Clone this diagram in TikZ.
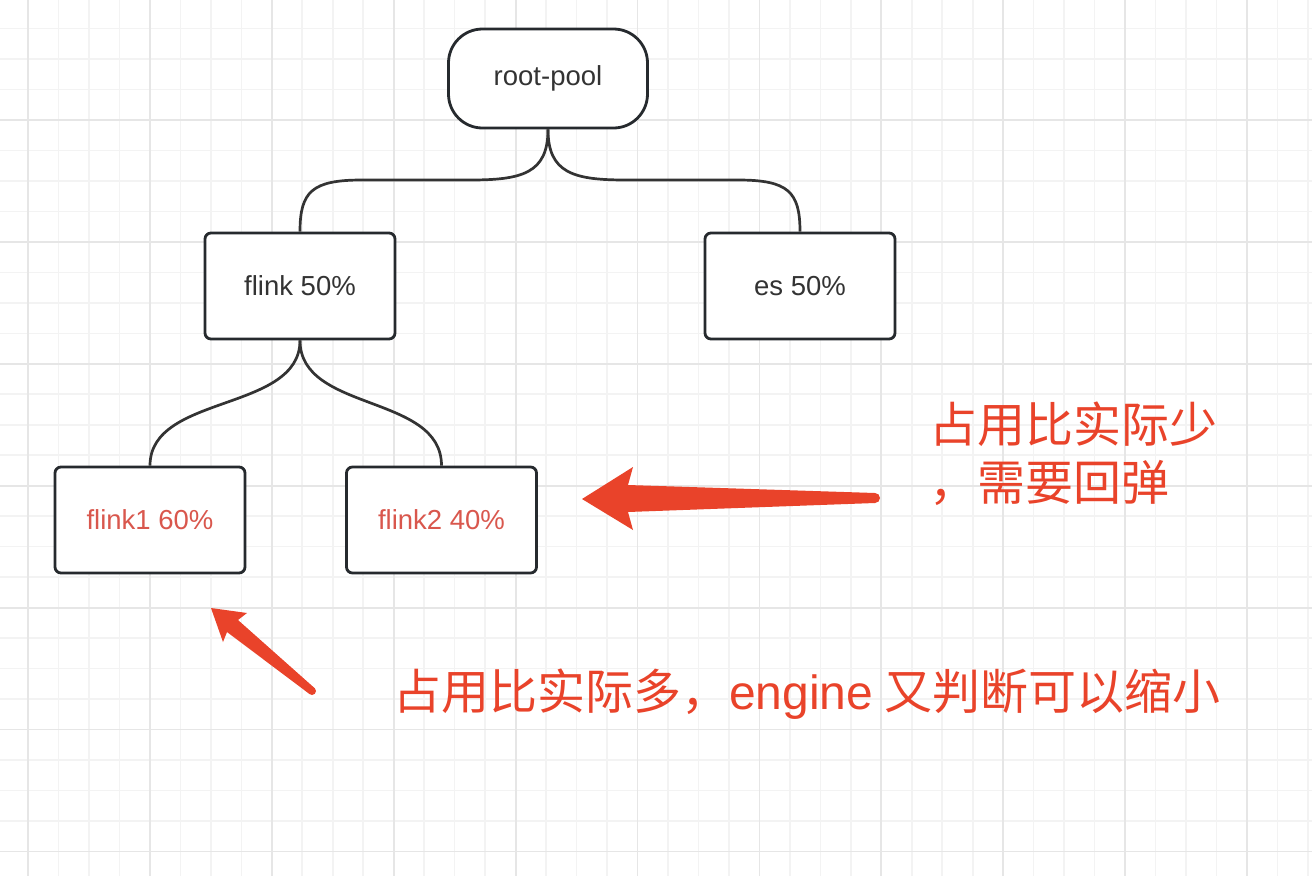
\documentclass[tikz,border=0pt]{standalone}
\usepackage{fontspec}
\setmainfont{Liberation Sans}
\newfontfamily\cjk{Noto Sans CJK SC}
\usepackage{tikz}
\definecolor{boxline}{HTML}{262A2E}
\definecolor{linegray}{HTML}{333333}
\definecolor{textgray}{HTML}{333333}
\definecolor{subred}{HTML}{D9574D}
\definecolor{notered}{HTML}{E9432A}
\definecolor{minorgrid}{HTML}{F3F3F3}
\definecolor{majorgrid}{HTML}{E6E6E6}

\begin{document}
\begin{tikzpicture}[x=1pt,y=-1pt,
  poolbox/.style={draw=boxline, line width=2.8pt, fill=white, rounded corners=6pt,
    minimum width=190pt, minimum height=106pt, inner sep=0pt, text=textgray,
    font=\fontsize{27.5}{32}\selectfont},
  rootbox/.style={poolbox, rounded corners=34pt, minimum width=199pt, minimum height=99pt},
  subbox/.style={poolbox, text=subred},
  branch/.style={draw=linegray, line width=2.7pt},
  note/.style={text=notered, inner sep=0pt, font=\cjk\fontsize{48}{58}\selectfont},
  bigarrow/.style={fill=notered}]
\useasboundingbox (0,0) rectangle (1312,876);
\fill[white] (0,0) rectangle (1312,876);
% grid
\foreach \i in {-1,...,42}
  \draw[minorgrid, line width=1.6pt] ({28+30.475*\i},0) -- ({28+30.475*\i},876);
\foreach \i in {-4,...,25}
  \draw[minorgrid, line width=1.6pt] (0,{120+30.475*\i}) -- (1312,{120+30.475*\i});
\foreach \i in {0,...,10}
  \draw[majorgrid, line width=1.8pt] ({28+121.9*\i},0) -- ({28+121.9*\i},876);
\foreach \i in {0,...,6}
  \draw[majorgrid, line width=1.8pt] (0,{120+121.9*\i}) -- (1312,{120+121.9*\i});

% pools
\node[rootbox] (root) at (548,78.5) {root-pool};
\node[poolbox] (flink) at (300,286) {flink 50\%};
\node[poolbox] (es) at (800,286) {es 50\%};
\node[subbox] (flinka) at (150,520) {flink1 60\%};
\node[subbox] (flinkb) at (441.5,520) {flink2 40\%};

\coordinate (lbend) at (470,180);
\coordinate (lturn) at (362,180);
\coordinate (rbend) at (626,180);
\coordinate (rturn) at (738,180);
\draw[branch] (root.south) .. controls +(0,44) and +(52,0) .. (lbend) -- (lturn)
  .. controls +(-50,0) and +(0,-40) .. (flink.north);
\draw[branch] (root.south) .. controls +(0,44) and +(-52,0) .. (rbend) -- (rturn)
  .. controls +(50,0) and +(0,-40) .. (es.north);
\draw[branch] (flink.south) .. controls +(0,72) and +(0,-72) .. (flinka.north);
\draw[branch] (flink.south) .. controls +(0,72) and +(0,-72) .. (flinkb.north);

% notes
\fill[bigarrow] (582,499) -- (633,467) -- (628,485) -- (875,493) -- (875,503)
  -- (628,512) -- (633,530) -- cycle;
\fill[bigarrow] (875,498) circle[radius=5];
\fill[bigarrow] (211,608) -- (247,613) -- (238,620) -- (314.5,688) -- (309.5,694)
  -- (227,632) -- (223,642) -- cycle;
\fill[bigarrow] (312,691) circle[radius=4];

\node[note, anchor=north west, align=left] (shrinknote) at (929,402) {占用比实际少\\，需要回弹};
\node[note, anchor=base west] (grownote) at (393,709) {占用比实际多，{\rmfamily engine} 又判断可以缩小};
\end{tikzpicture}
\end{document}
